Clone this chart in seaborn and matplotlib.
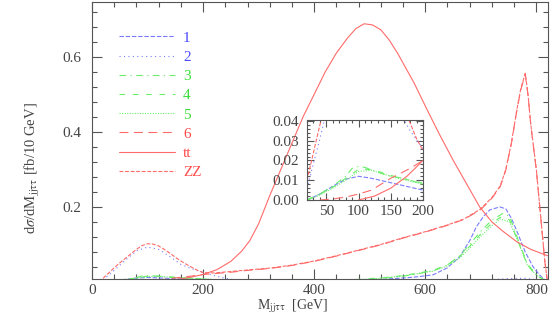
import matplotlib
matplotlib.use("Agg")
import matplotlib.pyplot as plt
from matplotlib.ticker import MultipleLocator, FormatStrFormatter
import seaborn as sns

# ---- data ----
zz_x = [20, 30, 40, 50, 60, 70, 80, 90, 100, 110, 120, 130, 140, 150, 160, 170, 180, 190, 200,
        220, 250, 280, 320, 360, 400, 440, 480, 520, 560, 600, 640, 670, 700, 720, 735, 745,
        755, 765, 772, 780, 785, 790, 800, 810, 815, 820]
zz_y = [0.010, 0.024, 0.038, 0.051, 0.063, 0.075, 0.087, 0.097, 0.102, 0.101, 0.096, 0.087,
        0.077, 0.066, 0.056, 0.047, 0.039, 0.031, 0.025,
        0.024, 0.028, 0.032, 0.037, 0.045, 0.056, 0.070, 0.085, 0.100, 0.118, 0.134, 0.152,
        0.168, 0.195, 0.225, 0.256, 0.300, 0.370, 0.460, 0.515, 0.556, 0.500, 0.420, 0.300,
        0.140, 0.060, 0.0]

s6_x = [40, 60, 80, 100, 120, 150, 180, 200, 250, 280, 320, 360, 400, 440, 480, 520, 560,
        600, 640, 670, 700, 720, 735, 745, 755, 765, 772, 780, 785, 790, 800, 810, 815, 820]
s6_y = [0.0, 0.0005, 0.0015, 0.003, 0.005, 0.011, 0.016, 0.020, 0.026, 0.031, 0.036, 0.044,
        0.055, 0.069, 0.084, 0.099, 0.117, 0.133, 0.151, 0.167, 0.193, 0.223, 0.254, 0.298,
        0.368, 0.458, 0.512, 0.553, 0.498, 0.418, 0.298, 0.138, 0.058, 0.0]

tt_x = [100, 125, 150, 175, 200, 225, 250, 270, 284, 300, 320, 340, 360, 380, 400, 420, 440,
        460, 475, 490, 505, 520, 535, 550, 565, 580, 603, 625, 650, 675, 698, 720, 740, 765,
        790, 820]
tt_y = [0.0, 0.002, 0.006, 0.012, 0.020, 0.033, 0.055, 0.083, 0.110, 0.155, 0.230, 0.300,
        0.370, 0.440, 0.500, 0.560, 0.610, 0.650, 0.675, 0.688, 0.685, 0.672, 0.645, 0.610,
        0.570, 0.530, 0.460, 0.395, 0.325, 0.260, 0.200, 0.160, 0.135, 0.107, 0.087, 0.070]

s1_x = [20, 40, 60, 80, 100, 120, 140, 160, 180, 200, 220, 250, 300, 400, 480, 520, 554, 580,
        614, 640, 662, 680, 692, 705, 716, 734, 745, 755, 764, 780, 794, 805, 812, 820]
s1_y = [0.0, 0.003, 0.007, 0.0105, 0.012, 0.011, 0.0095, 0.008, 0.0065, 0.005, 0.0035, 0.002,
        0.001, 0.002, 0.004, 0.007, 0.010, 0.013, 0.019, 0.038, 0.067, 0.110, 0.147, 0.175,
        0.192, 0.200, 0.195, 0.170, 0.139, 0.080, 0.041, 0.020, 0.010, 0.0]

s2_x = [20, 40, 60, 80, 100, 120, 140, 160, 180, 200, 220, 240, 260, 300, 400, 600, 700, 750,
        780, 800, 820]
s2_y = [0.006, 0.031, 0.058, 0.083, 0.093, 0.087, 0.068, 0.047, 0.035, 0.026, 0.017, 0.010,
        0.005, 0.002, 0.001, 0.002, 0.005, 0.009, 0.010, 0.006, 0.0]

s3_x = [20, 40, 60, 80, 90, 100, 110, 130, 150, 170, 190, 200, 230, 260, 300, 400, 480, 520,
        554, 580, 614, 640, 662, 680, 700, 720, 740, 752, 764, 784, 800, 812, 820]
s3_y = [0.0, 0.003, 0.007, 0.012, 0.016, 0.017, 0.0165, 0.014, 0.012, 0.011, 0.009, 0.008,
        0.005, 0.003, 0.002, 0.003, 0.006, 0.010, 0.014, 0.020, 0.030, 0.045, 0.070, 0.100,
        0.135, 0.165, 0.183, 0.175, 0.125, 0.048, 0.020, 0.008, 0.0]

s4_x = [20, 40, 60, 80, 100, 120, 140, 160, 180, 200, 230, 260, 300, 400, 480, 520, 554, 580,
        614, 640, 662, 680, 700, 720, 738, 752, 764, 784, 800, 812, 820]
s4_y = [0.0, 0.003, 0.0065, 0.011, 0.0155, 0.0155, 0.0135, 0.0115, 0.010, 0.0085, 0.005, 0.003,
        0.002, 0.003, 0.007, 0.011, 0.016, 0.022, 0.031, 0.046, 0.068, 0.095, 0.128, 0.157,
        0.175, 0.165, 0.120, 0.045, 0.018, 0.007, 0.0]

s5_x = [20, 40, 60, 80, 100, 120, 140, 160, 180, 200, 230, 260, 300, 400, 480, 520, 554, 580,
        614, 640, 662, 680, 700, 720, 735, 752, 764, 784, 800, 812, 820]
s5_y = [0.0, 0.0025, 0.006, 0.010, 0.0145, 0.015, 0.013, 0.011, 0.0095, 0.008, 0.005, 0.003,
        0.002, 0.003, 0.006, 0.010, 0.015, 0.021, 0.029, 0.043, 0.064, 0.090, 0.122, 0.150,
        0.168, 0.160, 0.118, 0.044, 0.018, 0.007, 0.0]

BLUE, GREEN, RED = "#7a7aff", "#6aee6a", "#ff6a6a"
series = [
    ("1", s1_x, s1_y, BLUE, (0, (4, 1.6)), "#4a4aff"),
    ("2", s2_x, s2_y, BLUE, (0, (1, 3)), "#4a4aff"),
    ("3", s3_x, s3_y, GREEN, (0, (6, 4, 1, 4)), "#3ade3a"),
    ("4", s4_x, s4_y, GREEN, (0, (5, 7)), "#3ade3a"),
    ("5", s5_x, s5_y, GREEN, (0, (1, 1.3)), "#3ade3a"),
    ("6", s6_x, s6_y, RED, (0, (8, 5)), "#ff4a4a"),
    ("tt", tt_x, tt_y, RED, "-", "#ff4a4a"),
    ("ZZ", zz_x, zz_y, RED, (0, (3.5, 1.5)), "#ff4a4a"),
]

sns.set_style("ticks")
plt.rcParams["font.family"] = ["Liberation Serif", "DejaVu Serif"]
plt.rcParams["mathtext.fontset"] = "stix"

fig = plt.figure(figsize=(5.5, 3.14), dpi=100)
ax = fig.add_axes([92 / 550, 35 / 314, 456 / 550, 277 / 314])
ins = fig.add_axes([307 / 550, 114 / 314, 116 / 550, 80 / 314])

for lab, xs, ys, col, ls, tcol in series:
    sns.lineplot(x=xs, y=ys, ax=ax, color=col, linestyle=ls, linewidth=0.8,
                 sort=False, estimator=None, label=lab)
    sns.lineplot(x=xs, y=ys, ax=ins, color=col, linestyle=ls, linewidth=0.8,
                 sort=False, estimator=None, legend=False)

GRAY = "#555555"
for a in (ax, ins):
    for sp in a.spines.values():
        sp.set_color(GRAY)
        sp.set_linewidth(0.8)
    a.tick_params(which="both", direction="in", top=True, right=True, color=GRAY,
                  labelcolor="#444444", labelsize=11, width=0.8)
    a.tick_params(which="major", length=7)
    a.tick_params(which="minor", length=3.5)
    a.set_xlabel("")
    a.set_ylabel("")

ax.set_xlim(0, 821)
ax.set_ylim(0.008, 0.746)
ax.xaxis.set_major_locator(MultipleLocator(200))
ax.xaxis.set_minor_locator(MultipleLocator(40))
ax.yaxis.set_major_locator(MultipleLocator(0.2))
ax.yaxis.set_minor_locator(MultipleLocator(0.04))
ax.yaxis.set_major_formatter(FormatStrFormatter("%.1f"))
ax.tick_params(axis="y", pad=8)

ins.set_xlim(20, 200)
ins.set_ylim(0, 0.0405)
ins.xaxis.set_major_locator(MultipleLocator(50))
ins.xaxis.set_minor_locator(MultipleLocator(10))
ins.yaxis.set_major_locator(MultipleLocator(0.01))
ins.yaxis.set_minor_locator(MultipleLocator(0.002))
ins.yaxis.set_major_formatter(FormatStrFormatter("%.2f"))
ins.tick_params(which="major", length=5)
ins.tick_params(which="minor", length=2.5)
ins.tick_params(axis="y", pad=6)
ins.set_facecolor("white")

ax.set_xlabel(r"M$_{\rm jj\tau\tau}$  [GeV]", fontsize=10, color="#444444")
ax.xaxis.set_label_coords(0.44, -0.066)
ax.set_ylabel(r"d$\sigma$/dM$_{\rm jj\tau\tau}$ [fb/10 GeV]", fontsize=10.5, color="#444444")
ax.yaxis.set_label_coords(-0.11, 0.40)

leg = ax.legend(loc="upper left", bbox_to_anchor=(0.059, 0.895), frameon=False,
                handlelength=3.7, handletextpad=0.5, labelspacing=0.36, fontsize=11,
                borderaxespad=0, borderpad=0)
for txt, s in zip(leg.get_texts(), series):
    txt.set_color(s[5])

fig.savefig("out.png", dpi=100)
